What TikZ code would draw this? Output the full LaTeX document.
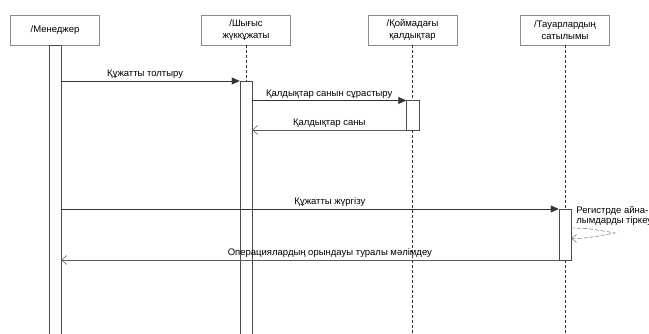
\documentclass[tikz,border=0pt]{standalone}
\usepackage{fontspec}
\setmainfont{Liberation Sans}
\usetikzlibrary{arrows.meta,positioning}

\begin{document}
\begin{tikzpicture}[x=1pt,y=-1pt,font=\fontsize{9.5}{12}\selectfont,
	obj/.style={draw=black!45,fill=white,minimum width=89pt,minimum height=30pt,align=center,inner sep=1pt},
	act/.style={draw=black!70,fill=white,minimum width=12.5pt,inner sep=0pt,outer sep=0pt,anchor=north},
	life/.style={draw=black!80,dash pattern=on 3pt off 2pt},
	call/.style={draw=black!80,-{Triangle[length=8pt,width=7pt]}},
	reply/.style={draw=black!65,-{Straight Barb[length=5pt,width=9pt,line width=0.5pt]}},
	self/.style={draw=black!70,dash pattern=on 4pt off 2pt,-{Straight Barb[length=5pt,width=8pt]}},
	lbl/.style={above=1pt,inner sep=1pt}]
	\useasboundingbox (0,0) rectangle (649,334);
	\coordinate (bot) at (0,334);
	\coordinate (t1) at (0,81);
	\coordinate (t2) at (0,100.5);
	\coordinate (t4) at (0,209);

	% object heads
	\node[obj] (mgr) at (55,30) {/Менеджер};
	\node[obj] (doc) at (246,30) {/Шығыс\\жүккұжаты};
	\node[obj] (stock) at (412.5,30) {/Қоймадағы\\қалдықтар};
	\node[obj] (sale) at (565,30) {/Тауарлардың\\сатылымы};

	% lifelines
	\draw[life] (doc.south) -- (doc |- bot);
	\draw[life] (stock.south) -- (stock |- bot);
	\draw[life] (sale.south) -- (sale |- bot);

	% activations
	\node[act,minimum height=300pt] (mgrbar) at (mgr.south) {};
	\node[act,minimum height=260pt] (docbar) at (doc |- t1) {};
	\node[act,minimum height=29.5pt] (stockbar) at (stock |- t2) {};
	\node[act,minimum height=51pt] (salebar) at (sale |- t4) {};

	% messages
	\draw[call] (mgrbar.east |- t1) -- (docbar.north west)
		node[lbl,pos=0.47] {Құжатты толтыру};
	\draw[call] (docbar.east |- t2) -- (stockbar.north west)
		node[lbl,midway] {Қалдықтар санын сұрастыру};
	\draw[reply] (stockbar.south west) -- (docbar.east |- stockbar.south)
		node[lbl,midway] {Қалдықтар саны};
	\draw[call] (mgrbar.east |- t4) -- (salebar.north west)
		node[lbl,pos=0.54] {Құжатты жүргізу};
	\draw[reply] (salebar.south west) -- (mgrbar.east |- salebar.south)
		node[lbl,pos=0.46] {Операциялардың орындауы туралы мәлімдеу};

	% self call
	\coordinate (turn) at (615,233);
	\draw[self] ([yshift=-19pt]salebar.north east) to[out=0,in=170] (turn)
		to[out=190,in=0] ([yshift=-29.5pt]salebar.north east);
	\node[anchor=north west,align=left,inner sep=0pt,font=\fontsize{9.5}{10.5}\selectfont]
		(selflbl) at ([xshift=5pt,yshift=3pt]salebar.north east) {Регистрде айна-\\лымдарды тіркеу};
\end{tikzpicture}
\end{document}
